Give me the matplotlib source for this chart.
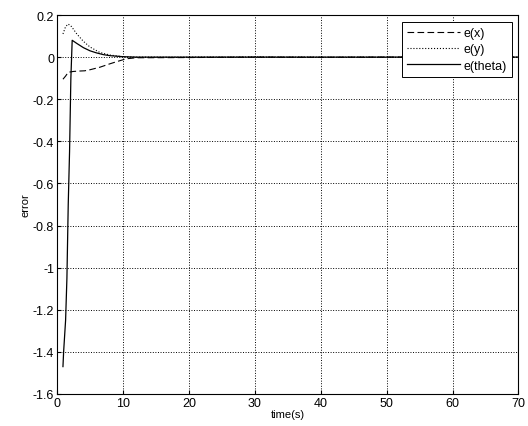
import numpy as np
import matplotlib.pyplot as plt

plt.rcParams['font.family'] = ['Liberation Sans', 'DejaVu Sans']

# e(theta)
t_th = [0.9, 1.0, 1.3, 1.5, 1.7, 1.9, 2.1, 2.3, 3, 4, 5, 6, 7, 8, 10, 12, 20, 30, 40, 50, 60, 70]
e_th = [-1.47, -1.40, -1.25, -1.05, -0.7, -0.45, -0.1, 0.08, 0.065, 0.045, 0.03, 0.02, 0.012, 0.007, 0.002, 0.0, 0.0, 0.0, 0.0, 0.0, 0.0, 0.0]

# e(x)
t_x = [0.9, 1.3, 1.7, 2.5, 3.5, 4.2, 5, 6.5, 8, 9, 10.5, 12, 20, 30, 40, 50, 60, 70]
e_x = [-0.105, -0.09, -0.072, -0.068, -0.066, -0.065, -0.06, -0.048, -0.032, -0.022, -0.008, -0.003, -0.002, 0.0, -0.001, 0.0, 0.0, 0.0]

# e(y)
t_y = [0.9, 1.3, 1.7, 2.2, 3, 4, 5, 6.5, 8, 10, 12, 20, 30, 40, 50, 60, 70]
e_y = [0.11, 0.145, 0.157, 0.145, 0.11, 0.075, 0.048, 0.022, 0.01, 0.002, 0.0, 0.0, 0.001, 0.0, 0.0, 0.0, 0.0]

fig = plt.figure(figsize=(5.28, 4.27), dpi=100)
ax = fig.add_axes([0.108, 0.0750, 0.874, 0.8875])

ax.plot(t_x, e_x, 'k--', lw=0.8, dashes=(6, 3), label='e(x)')
ax.plot(t_y, e_y, 'k:', lw=0.8, label='e(y)')
ax.plot(t_th, e_th, 'k-', lw=0.9, label='e(theta)')

ax.set_xlim(0, 70)
ax.set_ylim(-1.6, 0.2)
ax.set_xticks(np.arange(0, 71, 10))
yt = np.round(np.arange(-1.6, 0.21, 0.2), 1)
ax.set_yticks(yt)
ax.set_yticklabels(['0' if v == 0 else '%g' % v for v in yt])
ax.grid(True, color='k', linestyle=':', linewidth=0.7)
ax.tick_params(labelsize=9, direction='in', length=3, pad=2)
ax.set_xlabel('time(s)', fontsize=8, labelpad=0)
ax.set_ylabel('error', fontsize=8, labelpad=2)

leg = ax.legend(loc='upper right', fontsize=9, fancybox=False, edgecolor='k',
                framealpha=1, handlelength=4.2, handletextpad=0.3,
                borderaxespad=0.55, labelspacing=0.35, borderpad=0.4)
leg.get_frame().set_linewidth(0.7)

fig.savefig('out.png', dpi=100)
